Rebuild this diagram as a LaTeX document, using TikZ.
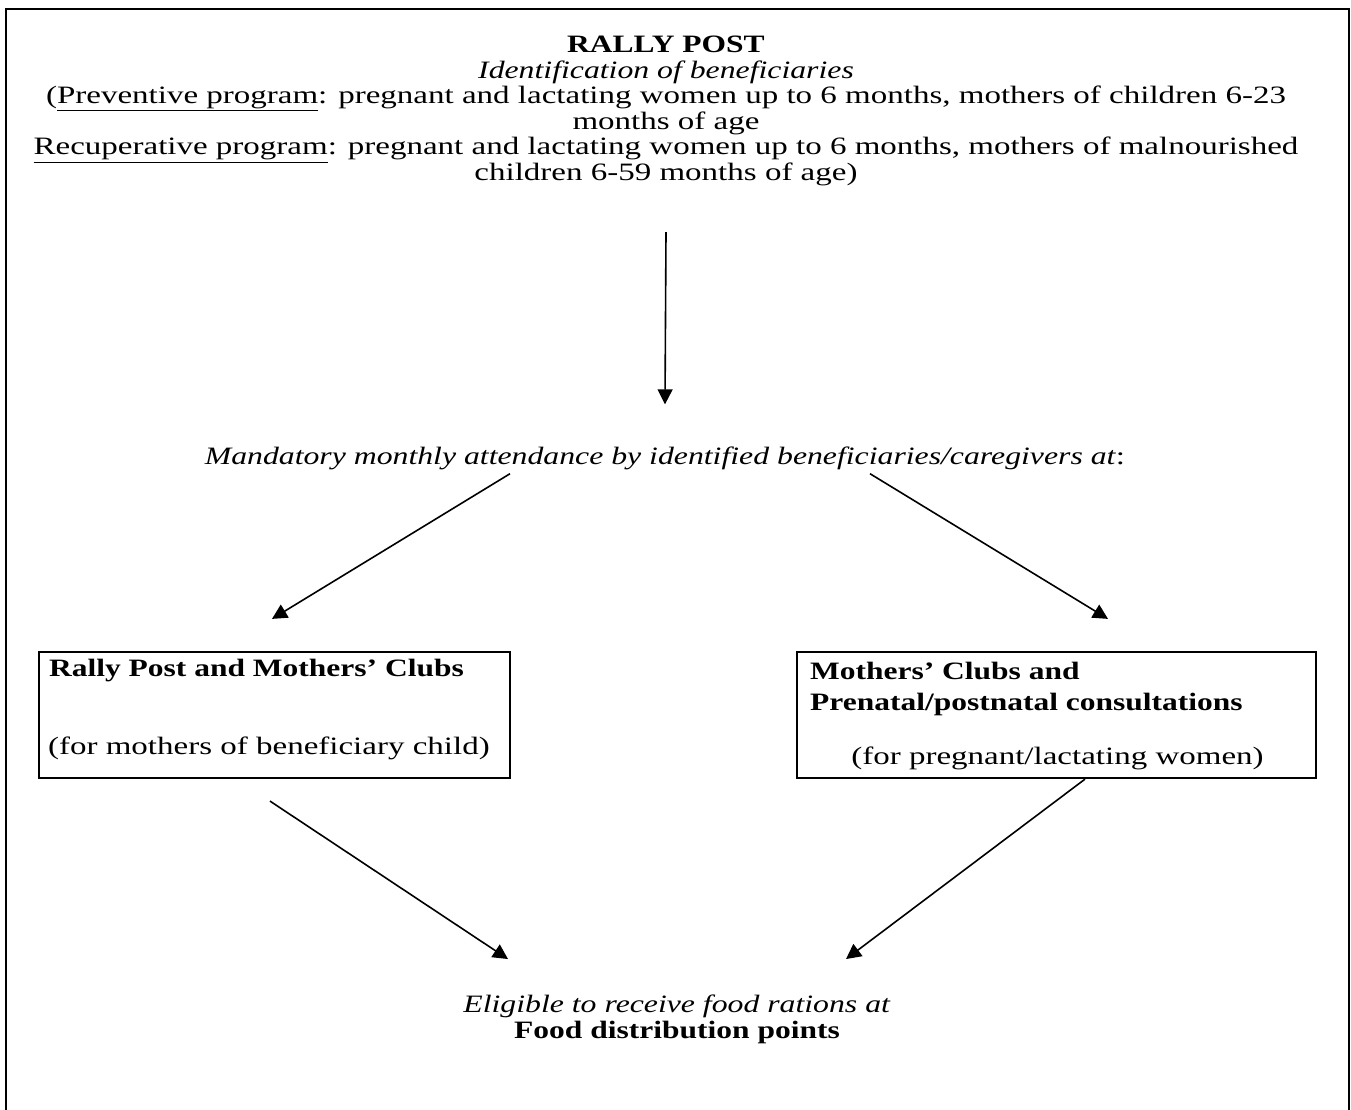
\documentclass[tikz,border=0pt]{standalone}
\usepackage{fontspec}
\setmainfont{Liberation Serif}[UprightFeatures={FakeStretch=1.32}, ItalicFeatures={FakeStretch=1.27}, BoldFeatures={FakeStretch=1.26}]
\usetikzlibrary{arrows.meta}
\tikzset{
  txt/.style={inner sep=0pt, font=\fontsize{25pt}{25.6pt}\selectfont},
  arr/.style={line width=1.6pt, -{Triangle[length=15pt,width=15pt]}},
  boxnode/.style={draw, line width=2.2pt, inner sep=0pt},
}
\begin{document}
\begin{tikzpicture}[x=1pt,y=-1pt]
\useasboundingbox (0,0) rectangle (1351,1109);
\draw[line width=2.4pt] (6,9) rectangle (1349,1120);
\node[txt, align=center] (top) at (666,111) {\textbf{RALLY POST}\\
\textit{Identification of beneficiaries}\\
(\underline{Preventive program}: pregnant and lactating women up to 6 months, mothers of children 6-23\\
months of age\\
\underline{Recuperative program}: pregnant and lactating women up to 6 months, mothers of malnourished\\
children 6-59 months of age)};
\node[txt] (mid) at (665,458) {\textit{Mandatory monthly attendance by identified beneficiaries/caregivers at}:};
\node[boxnode, minimum width=471pt, minimum height=126pt] (lbox) at (274.5,715) {};
\node[boxnode, minimum width=519pt, minimum height=126pt] (rbox) at (1056.5,715) {};
\node[txt, anchor=west] (l1) at ([xshift=11pt,yshift=-20pt]lbox.north west) {\textbf{Rally Post and Mothers’ Clubs}};
\node[txt, anchor=west] (l2) at ([xshift=10pt,yshift=31pt]lbox.south west) {(for mothers of beneficiary child)};
\node[txt, anchor=west, align=left] (r1) at ([xshift=14pt,yshift=-38pt]rbox.north west) {\textbf{Mothers’ Clubs and}\\[6pt]\textbf{Prenatal/postnatal consultations}};
\node[txt] (r2) at ([xshift=1pt,yshift=21pt]rbox.south) {(for pregnant/lactating women)};
\node[txt, align=center] (bot) at (677,1019.5) {\textit{Eligible to receive food rations at}\\\textbf{Food distribution points}};
\draw[arr] ([yshift=-46pt]top.south) -- ([yshift=42pt]mid.north);
\draw[arr] ([xshift=-155pt,yshift=-4pt]mid.south) -- ([xshift=-2.5pt,yshift=32pt]lbox.north);
\draw[arr] ([xshift=205pt,yshift=-4pt]mid.south) -- ([xshift=51.5pt,yshift=32pt]rbox.north);
\draw[arr] ([xshift=-4.5pt,yshift=-22pt]lbox.south) -- ([xshift=-169pt,yshift=36pt]bot.north);
\draw[arr] ([xshift=28.5pt]rbox.south) -- ([xshift=169pt,yshift=36pt]bot.north);
\end{tikzpicture}
\end{document}
